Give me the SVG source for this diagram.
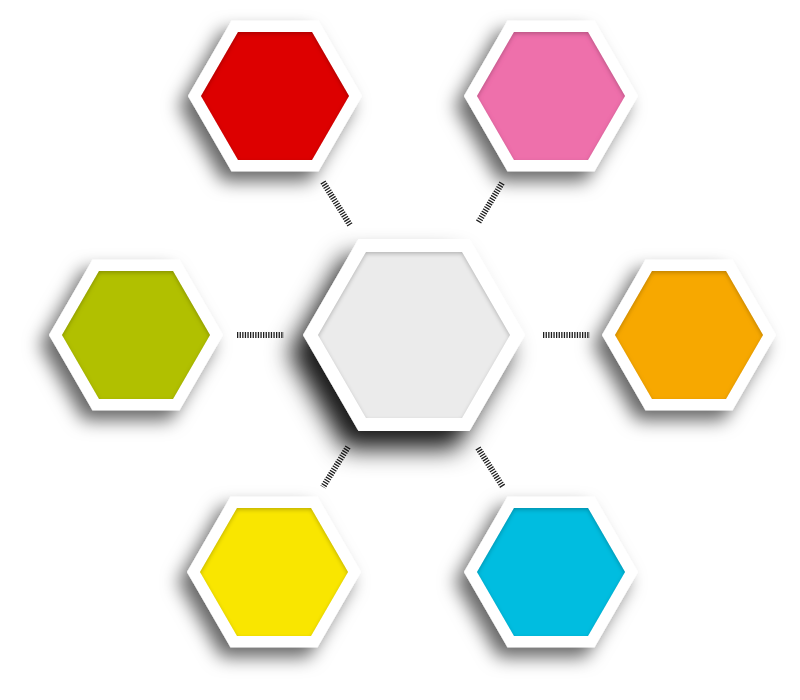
<svg xmlns="http://www.w3.org/2000/svg" width="800" height="700" viewBox="0 0 800 700">
<style>
.outer{fill:#ffffff;filter:url(#drop)}
.inner{filter:url(#inset)}
.conn{stroke:#1e1e1e;stroke-width:6;stroke-dasharray:1.3 1.3;fill:none}
</style>
<defs>
<filter id="drop" x="-40%" y="-40%" width="180%" height="190%">
<feDropShadow dx="-9" dy="10" stdDeviation="9" flood-color="#000" flood-opacity="0.6"/>
</filter>
<filter id="dropBig" x="-40%" y="-40%" width="180%" height="190%">
<feDropShadow dx="-14" dy="18" stdDeviation="12" flood-color="#000" flood-opacity="0.9"/>
</filter>
<filter id="inset" x="-10%" y="-10%" width="120%" height="120%">
<feFlood flood-color="#000" flood-opacity="0.45"/>
<feComposite in2="SourceAlpha" operator="out"/>
<feGaussianBlur stdDeviation="2.2"/>
<feOffset dx="0" dy="1.5"/>
<feComposite in2="SourceAlpha" operator="in" result="sh"/>
<feMerge><feMergeNode in="SourceGraphic"/><feMergeNode in="sh"/></feMerge>
</filter>
<polygon id="hexO" points="-87,0 -43.5,-75.3 43.5,-75.3 87,0 43.5,75.3 -43.5,75.3"/>
<polygon id="hexI" points="-74,0 -37,-64.1 37,-64.1 74,0 37,64.1 -37,64.1"/>
</defs>
<rect width="800" height="700" fill="#ffffff"/>

<g id="connectors">
<line class="conn" x1="323" y1="182" x2="350" y2="225"/>
<line class="conn" x1="502" y1="183" x2="478" y2="223"/>
<line class="conn" x1="237" y1="335" x2="284" y2="335"/>
<line class="conn" x1="543" y1="335" x2="590" y2="335"/>
<line class="conn" x1="348" y1="447" x2="323" y2="487"/>
<line class="conn" x1="478" y1="448" x2="503" y2="487"/>
</g>

<g id="center">
<polygon points="303,335 358.5,238.9 469.5,238.9 525,335 469.5,431.1 358.5,431.1" fill="#ffffff" filter="url(#dropBig)"/>
<polygon class="inner" points="318,335 366,251.9 462,251.9 510,335 462,418.1 366,418.1" fill="#ebebeb"/>
</g>

<g id="node-red" transform="translate(275,96)">
<use href="#hexO" class="outer"/>
<use href="#hexI" class="inner" fill="#dd0000"/>
</g>
<g id="node-pink" transform="translate(551,96)">
<use href="#hexO" class="outer"/>
<use href="#hexI" class="inner" fill="#ee6fab"/>
</g>
<g id="node-green" transform="translate(136,335)">
<use href="#hexO" class="outer"/>
<use href="#hexI" class="inner" fill="#b1c000"/>
</g>
<g id="node-orange" transform="translate(689,335)">
<use href="#hexO" class="outer"/>
<use href="#hexI" class="inner" fill="#f7a800"/>
</g>
<g id="node-yellow" transform="translate(274,572)">
<use href="#hexO" class="outer"/>
<use href="#hexI" class="inner" fill="#f9e600"/>
</g>
<g id="node-cyan" transform="translate(551,572)">
<use href="#hexO" class="outer"/>
<use href="#hexI" class="inner" fill="#00bde0"/>
</g>
</svg>
